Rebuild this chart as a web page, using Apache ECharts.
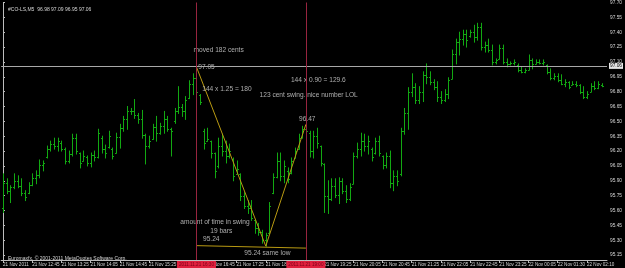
<!DOCTYPE html>
<html>
<head>
<meta charset="utf-8">
<script src="https://cdn.jsdelivr.net/npm/echarts@6/dist/echarts.min.js"></script>
<style>html,body{margin:0;padding:0;background:#000;}#c{width:625px;height:268px;}</style>
</head>
<body>
<div id="c"></div>
<script>
// ---- data (5-minute bars, #CO-LS) ----
var highs = [95.97,95.92,95.85,95.97,95.95,95.92,95.80,95.88,95.97,96.00,96.11,96.10,96.25,96.30,96.33,96.33,96.30,96.23,96.20,96.37,
96.37,96.18,96.20,96.15,96.18,96.20,96.42,96.35,96.26,96.40,96.23,96.38,96.47,96.55,96.65,96.63,96.72,96.58,96.61,96.37,
96.35,96.47,96.55,96.48,96.60,96.55,96.43,96.63,96.85,96.67,96.75,96.91,96.98,97.05,96.77,96.42,96.43,96.30,96.18,96.33,
96.37,96.30,96.27,96.13,96.10,95.97,95.78,95.70,95.70,95.50,95.47,95.40,95.37,95.68,95.97,96.18,96.18,96.10,96.03,96.13,
96.23,96.37,96.45,96.47,96.40,96.40,96.43,96.25,96.07,95.90,95.92,95.92,95.93,95.92,95.85,95.87,96.18,96.28,96.38,96.37,
96.35,96.23,96.33,96.35,96.15,96.18,96.20,96.00,96.00,96.43,96.63,96.84,96.98,96.88,96.85,97.00,97.08,97.00,96.92,96.90,
96.80,96.82,96.94,97.22,97.33,97.40,97.42,97.42,97.42,97.47,97.49,97.49,97.30,97.33,97.27,97.13,97.27,97.27,97.13,97.10,
97.12,97.08,97.05,97.03,97.17,97.13,97.12,97.12,97.12,97.07,97.03,96.98,96.98,96.97,96.92,96.90,96.90,96.90,96.87,96.85,
96.80,96.88,96.90,96.90,96.88];
var lows = [95.58,95.77,95.68,95.82,95.83,95.75,95.70,95.77,95.85,95.87,95.93,96.00,96.13,96.20,96.22,96.20,96.20,96.07,96.08,96.15,
96.17,96.03,96.10,96.05,96.04,96.10,96.13,96.18,96.13,96.23,96.12,96.18,96.23,96.40,96.42,96.57,96.53,96.48,96.33,96.07,
96.23,96.32,96.30,96.37,96.38,96.40,96.15,96.48,96.58,96.55,96.52,96.73,96.77,96.77,96.67,96.22,96.30,96.13,95.93,96.03,
96.15,96.08,96.13,95.90,95.97,95.70,95.62,95.57,95.50,95.37,95.35,95.27,95.24,95.37,95.77,95.93,95.90,95.88,95.88,95.97,
96.13,96.22,96.33,96.37,96.14,96.13,96.23,96.05,95.58,95.57,95.70,95.73,95.67,95.77,95.68,95.70,95.87,96.13,96.15,96.20,
96.17,96.10,96.17,96.15,96.02,96.03,95.83,95.80,95.85,95.95,96.37,96.42,96.75,96.68,96.68,96.70,96.88,96.87,96.82,96.70,
96.68,96.70,96.73,96.93,97.08,97.17,97.27,97.25,97.35,97.30,97.32,97.22,97.20,97.20,97.07,97.08,97.13,97.08,97.05,97.07,
97.07,97.00,96.99,96.99,97.02,97.03,97.08,97.08,97.07,96.98,96.92,96.92,96.90,96.87,96.85,96.83,96.87,96.85,96.78,96.73,
96.73,96.80,96.82,96.83,96.85];
var opens = [95.62,95.88,95.80,95.84,95.90,95.85,95.78,95.78,95.86,95.93,95.96,96.06,96.14,96.22,96.27,96.25,96.28,96.22,96.10,96.17,
96.33,96.18,96.10,96.14,96.08,96.16,96.14,96.33,96.22,96.24,96.22,96.18,96.34,96.43,96.52,96.60,96.60,96.56,96.52,96.36,
96.25,96.32,96.44,96.38,96.45,96.52,96.42,96.50,96.60,96.64,96.60,96.74,96.88,96.94,96.77,96.40,96.30,96.30,96.18,96.05,
96.25,96.20,96.15,96.12,95.97,95.97,95.75,95.65,95.62,95.50,95.42,95.38,95.30,95.37,95.78,95.94,96.10,95.95,96.00,95.98,
96.13,96.22,96.34,96.42,96.38,96.20,96.35,96.25,96.07,95.75,95.72,95.85,95.76,95.90,95.80,95.72,95.87,96.15,96.22,96.30,
96.25,96.22,96.18,96.30,96.15,96.06,96.15,95.88,95.95,95.97,96.40,96.58,96.80,96.85,96.72,96.80,96.97,96.95,96.90,96.85,
96.75,96.72,96.78,96.93,97.18,97.30,97.33,97.38,97.36,97.40,97.35,97.45,97.25,97.27,97.22,97.10,97.13,97.24,97.10,97.08,
97.09,97.07,97.02,97.00,97.02,97.12,97.08,97.10,97.09,97.07,97.00,96.94,96.96,96.92,96.88,96.90,96.87,96.88,96.87,96.80,
96.75,96.80,96.86,96.84,96.87];
var closes = [95.88,95.80,95.84,95.90,95.85,95.78,95.74,95.86,95.93,95.96,96.06,96.08,96.22,96.27,96.25,96.30,96.22,96.10,96.17,96.33,
96.20,96.08,96.15,96.08,96.16,96.14,96.38,96.22,96.18,96.35,96.15,96.34,96.43,96.52,96.60,96.60,96.56,96.52,96.36,96.25,
96.30,96.44,96.38,96.45,96.52,96.42,96.40,96.60,96.64,96.60,96.72,96.88,96.94,96.80,96.70,96.28,96.32,96.18,96.00,96.25,
96.20,96.15,96.20,95.95,96.02,95.75,95.65,95.62,95.52,95.42,95.38,95.30,95.35,95.65,95.94,96.10,95.95,96.05,95.92,96.10,
96.20,96.33,96.42,96.40,96.20,96.35,96.28,96.08,95.75,95.72,95.85,95.76,95.90,95.80,95.72,95.84,96.15,96.22,96.30,96.25,
96.30,96.14,96.30,96.18,96.06,96.15,95.88,95.95,95.90,96.40,96.58,96.80,96.85,96.72,96.80,96.97,96.95,96.90,96.85,96.75,
96.72,96.78,96.92,97.18,97.30,97.33,97.38,97.32,97.40,97.35,97.45,97.25,97.27,97.22,97.10,97.12,97.24,97.10,97.08,97.09,
97.10,97.02,97.00,97.02,97.12,97.08,97.10,97.09,97.10,97.00,96.94,96.96,96.92,96.88,96.90,96.85,96.88,96.87,96.80,96.75,
96.78,96.86,96.84,96.88,96.86];

// x tick labels, one every 8 bars
var tickLabels = ['21 Nov 2011','21 Nov 12:45','21 Nov 13:25','21 Nov 14:05','21 Nov 14:45','21 Nov 15:25','21 Nov 16:05',
'21 Nov 16:45','21 Nov 17:25','21 Nov 18:05','21 Nov 18:45','21 Nov 19:25','21 Nov 20:05','21 Nov 20:45','21 Nov 21:25',
'21 Nov 22:05','21 Nov 22:45','21 Nov 23:25','22 Nov 00:05','22 Nov 01:30','22 Nov 02:10'];
var tickBars = [0,8,16,24,32,40,48,56,64,72,80,88,96,104,112,120,128,136,144,152,160];
var priceTicks = [95.15,95.30,95.45,95.60,95.75,95.90,96.05,96.20,96.35,96.50,96.65,96.80,96.95,97.10,97.25,97.40,97.55,97.70];

// chart objects
var bidPrice = 97.06;
var vLineBars = [53, 83];
var vLineLabels = ['2011.11.21 16:30', '2011.11.21 19:00'];
var swingPoints = [[53, 97.05], [72, 95.24], [83, 96.47]];
var lowLine = [[53, 95.245], [83, 95.22]];
var notes = [
  [52.2, 97.223, 'moved 182 cents'],
  [53.5, 97.043, '97.05'],
  [54.6, 96.82, '144 x 1.25 = 180'],
  [78.9, 96.917, '144 x 0.90 = 129.6'],
  [70.3, 96.76, '123 cent swing. nice number LOL'],
  [81.1, 96.517, '96.47'],
  [48.6, 95.477, 'amount of time in swing'],
  [56.8, 95.387, '19 bars'],
  [54.8, 95.307, '95.24'],
  [66.1, 95.173, '95.24 same low']
];

var ohlc = highs.map(function (h, i) { return [i, opens[i], closes[i], lows[i], h]; });

var chart = echarts.init(document.getElementById('c'), null, {renderer: 'canvas'});
var barColor = '#12a812';
var axisCol = '#bdbdbd';
var txtCol = '#d6d6d6';
var font = 'Liberation Sans';

chart.setOption({
  backgroundColor: '#000',
  animation: false,
  title: [
    {text: '#CO-LS,M5  96.98 97.09 96.95 97.06', left: 3, top: 2,
     textStyle: {color: txtCol, fontSize: 5, fontWeight: 'normal', fontFamily: font}},
    {text: 'Euromaxfx, \u00a9 2001-2011 MetaQuotes Software Corp.', left: 3, top: 251,
     textStyle: {color: txtCol, fontSize: 5, fontWeight: 'normal', fontFamily: font}}
  ],
  grid: {left: 0, top: 0, width: 608, height: 260, containLabel: false},
  xAxis: {
    type: 'value', min: -0.5, max: 165.5,
    splitLine: {show: false},
    axisLine: {show: true, onZero: false, lineStyle: {color: axisCol, width: 1}},
    axisTick: {show: true, customValues: tickBars, length: 3, lineStyle: {color: axisCol}},
    axisLabel: {customValues: tickBars, color: txtCol, fontSize: 4.6, fontFamily: font, align: 'left', margin: 2,
      formatter: function (v) { var k = tickBars.indexOf(Math.round(v)); return k >= 0 ? tickLabels[k] : ''; }}
  },
  yAxis: {
    type: 'value', position: 'right', min: 95.10, max: 97.70,
    splitLine: {show: false},
    axisLine: {show: true, lineStyle: {color: axisCol, width: 1}},
    axisTick: {show: true, customValues: priceTicks, length: 2, lineStyle: {color: axisCol}},
    axisLabel: {customValues: priceTicks, color: txtCol, fontSize: 4.8, fontFamily: font, margin: 3,
      formatter: function (v) { return v.toFixed(2); }}
  },
  series: [
    {
      type: 'custom', name: 'bars', data: ohlc,
      encode: {x: 0, y: [1, 2, 3, 4]},
      clip: true,
      renderItem: function (params, api) {
        var x = api.value(0);
        var o = api.coord([x, api.value(1)]);
        var c = api.coord([x, api.value(2)]);
        var l = api.coord([x, api.value(3)]);
        var h = api.coord([x, api.value(4)]);
        var px = Math.round(h[0]) + 0.5;
        var st = {stroke: barColor, lineWidth: 1};
        return {type: 'group', children: [
          {type: 'line', shape: {x1: px, y1: h[1] - 0.5, x2: px, y2: l[1] + 0.5}, style: st},
          {type: 'line', shape: {x1: px - 1.5, y1: Math.round(o[1]) + 0.5, x2: px, y2: Math.round(o[1]) + 0.5}, style: st},
          {type: 'line', shape: {x1: px, y1: Math.round(c[1]) + 0.5, x2: px + 1.5, y2: Math.round(c[1]) + 0.5}, style: st}
        ]};
      },
      markLine: {
        silent: true, symbol: ['none', 'none'], animation: false,
        data: [
          {yAxis: bidPrice, lineStyle: {color: '#a8a8a8', width: 1, type: 'solid'},
           label: {show: true, position: 'end', distance: 2, formatter: bidPrice.toFixed(2),
                   backgroundColor: '#e6e6e6', color: '#000', fontSize: 4.8, fontFamily: font, padding: [1, 1, 0, 1]}},
          {xAxis: vLineBars[0], name: vLineLabels[0], lineStyle: {color: '#98243f', width: 1, type: 'solid'},
           label: {show: true, position: 'start', distance: 1, formatter: vLineLabels[0],
                   backgroundColor: '#e0203e', color: '#7a0018', fontSize: 4.6, fontFamily: font, padding: [1, 2, 1, 2]}},
          {xAxis: vLineBars[1], name: vLineLabels[1], lineStyle: {color: '#98243f', width: 1, type: 'solid'},
           label: {show: true, position: 'start', distance: 1, formatter: vLineLabels[1],
                   backgroundColor: '#e0203e', color: '#7a0018', fontSize: 4.6, fontFamily: font, padding: [1, 2, 1, 2]}}
        ]
      }
    },
    {
      type: 'line', name: 'swing', data: swingPoints, symbol: 'none', z: 3,
      lineStyle: {color: '#b99a12', width: 1}
    },
    {
      type: 'line', name: 'low', data: lowLine, symbol: 'none', z: 3,
      lineStyle: {color: '#b99a12', width: 1}
    },
    {
      type: 'scatter', name: 'notes', symbolSize: 0, z: 4,
      data: notes.map(function (n) { return {value: [n[0], n[1]], name: n[2]}; }),
      label: {show: true, position: 'right', distance: 0, formatter: '{b}', color: txtCol,
              fontSize: 6.6, fontFamily: font}
    }
  ]
});
</script>
</body>
</html>
